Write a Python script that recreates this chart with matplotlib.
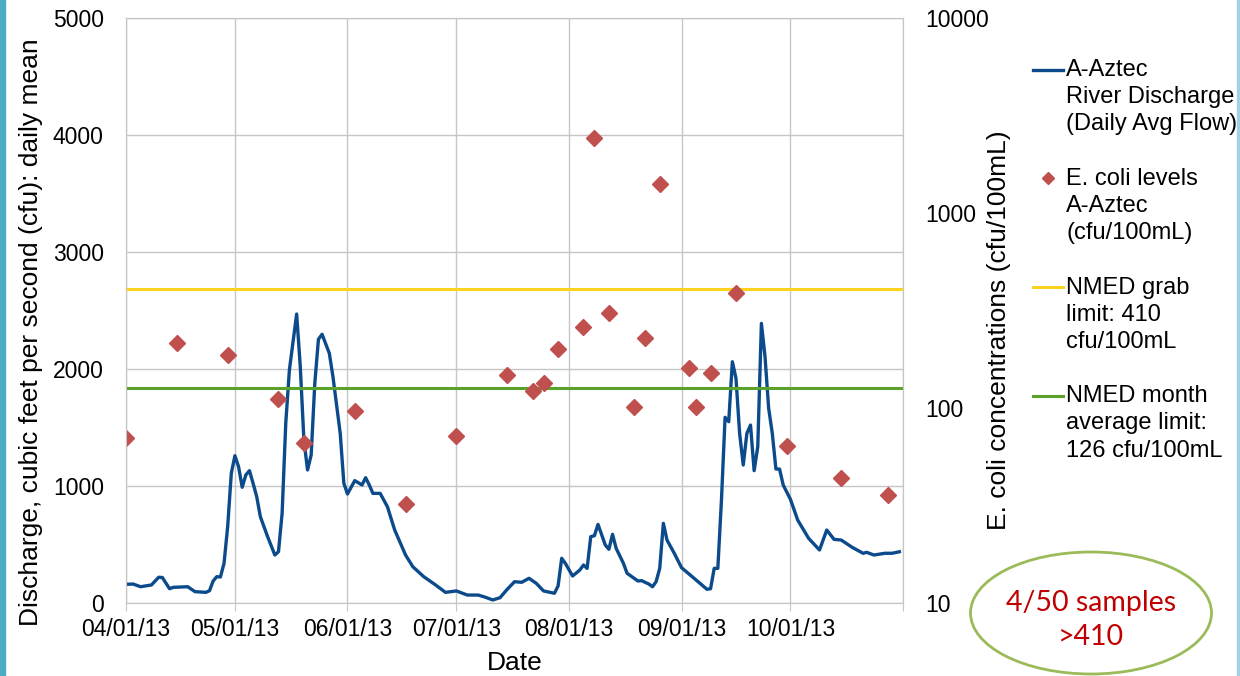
import numpy as np
import matplotlib.pyplot as plt
from matplotlib.lines import Line2D
from matplotlib.patches import Ellipse, Rectangle
from matplotlib.legend_handler import HandlerLine2D
from matplotlib.transforms import Affine2D
from matplotlib.ticker import NullLocator

plt.rcParams['font.family'] = ['Liberation Sans', 'DejaVu Sans']

# daily mean discharge (cfs); day 0 = 04/01/13
flow_day = [0, 2, 4, 7, 9, 10, 12, 13, 17, 19, 22, 23, 24, 25, 26, 27, 28, 29,
            30, 31, 32, 33, 34, 35, 36, 37, 39, 41, 42, 43, 44, 45, 47, 48, 49,
            50, 51, 52, 53, 54, 56, 57, 59, 60, 61, 63, 65, 66, 67, 68, 70, 72,
            74, 77, 79, 82, 85, 88, 91, 94, 97, 99, 101, 103, 105, 107, 109,
            111, 113, 115, 118, 119, 120, 121, 123, 125, 126, 127, 128, 129,
            130, 132, 133, 134, 135, 137, 138, 141, 142, 144, 145, 146, 147,
            148, 149, 151, 153, 154, 157, 160, 161, 162, 163, 164, 165, 166,
            167, 168, 169, 170, 171, 172, 173, 174, 175, 176, 177, 178, 179,
            180, 181, 183, 185, 188, 191, 193, 195, 197, 200, 203, 204, 206,
            209, 211, 213]
flow_cfs = [160, 162, 139, 154, 220, 218, 122, 134, 139, 97, 91, 105, 188, 225,
            222, 339, 652, 1108, 1259, 1165, 989, 1094, 1131, 1023, 909, 738,
            567, 410, 439, 767, 1536, 1991, 2470, 2020, 1393, 1137, 1265, 1878,
            2254, 2297, 2134, 1934, 1450, 1023, 932, 1046, 1009, 1071, 1009,
            937, 937, 823, 624, 410, 310, 225, 160, 91, 103, 68, 68, 49, 26, 45,
            117, 182, 177, 211, 168, 103, 83, 145, 382, 339, 231, 282, 325, 296,
            567, 575, 672, 496, 459, 587, 467, 339, 254, 188, 191, 162, 139,
            182, 296, 681, 538, 425, 302, 276, 197, 117, 122, 296, 296, 880,
            1587, 1550, 2062, 1920, 1450, 1179, 1450, 1521, 1131, 1336, 2390,
            2105, 1664, 1450, 1145, 1145, 1009, 886, 709, 553, 453, 624, 544,
            538, 476, 425, 433, 410, 425, 425, 438]

# E. coli samples (cfu/100mL)
ecoli_date = ['2013-04-01', '2013-04-15', '2013-04-29', '2013-05-13',
              '2013-05-20', '2013-06-03', '2013-06-17', '2013-07-01',
              '2013-07-15', '2013-07-22', '2013-07-25', '2013-07-29',
              '2013-08-05', '2013-08-08', '2013-08-12', '2013-08-19',
              '2013-08-22', '2013-08-26', '2013-09-03', '2013-09-05',
              '2013-09-09', '2013-09-16', '2013-09-30', '2013-10-15',
              '2013-10-28']
ecoli_cfu = [70, 215, 187, 111, 66, 97, 32, 72, 147, 122, 134, 201, 260, 2415,
             307, 101, 228, 1409, 161, 101, 152, 389, 64, 44, 36]

grab_limit = 410
month_limit = 126

month_ticks = ['2013-04-01', '2013-05-01', '2013-06-01', '2013-07-01',
               '2013-08-01', '2013-09-01', '2013-10-01', '2013-11-01']
month_labels = ['04/01/13', '05/01/13', '06/01/13', '07/01/13', '08/01/13',
                '09/01/13', '10/01/13', '']

labels = ['A-Aztec\nRiver Discharge\n(Daily Avg Flow)',
          'E. coli levels\nA-Aztec\n(cfu/100mL)',
          'NMED grab\nlimit: 410\ncfu/100mL',
          'NMED month\naverage limit:\n126 cfu/100mL']

leg_spacing = 1.3


class TopLineHandler(HandlerLine2D):
    # put the legend key next to the first line of a multi-line label
    def create_artists(self, legend, orig_handle, xdescent, ydescent, width,
                       height, fontsize, trans):
        shift = Affine2D().translate(0, fontsize * 1.17)
        return super().create_artists(legend, orig_handle, xdescent, ydescent,
                                      width, height, fontsize, shift + trans)


start = np.datetime64('2013-04-01')
flow_dates = start + np.array(flow_day, dtype='timedelta64[D]')
ecoli_dates = np.array(ecoli_date, dtype='datetime64[D]')
ticks = np.array(month_ticks, dtype='datetime64[D]')

grid_c = '#C6C6C6'
fs = 16.5

fig = plt.figure(figsize=(12.4, 6.76), dpi=100)
ax = fig.add_axes([126 / 1240, 73 / 676, 777 / 1240, 585 / 676])
ax2 = ax.twinx()

l1, = ax.plot(flow_dates, flow_cfs, color='#0B4A8B', lw=2.4, zorder=3)
ax.set_ylim(0, 5000)
ax.set_yticks(range(0, 5001, 1000))
ax.set_xlim(ticks[0], ticks[-1])
ax.set_xticks(ticks)
ax.set_xticklabels(month_labels)
ax.grid(True, color=grid_c, lw=1)
ax.set_axisbelow(True)

ax2.set_yscale('log')
ax2.set_ylim(10, 10000)
ax2.set_yticks([10, 100, 1000, 10000])
ax2.set_yticklabels(['10', '100', '1000', '10000'])
ax2.yaxis.set_minor_locator(NullLocator())

l3 = ax2.axhline(grab_limit, color='#FFD21F', lw=2.2)
l4 = ax2.axhline(month_limit, color='#5AA22A', lw=2.2)
l2, = ax2.plot(ecoli_dates, ecoli_cfu, ls='none', marker='D', ms=8.5,
               color='#C0504D', mec='#C0504D')

for a in (ax, ax2):
    for s in a.spines.values():
        s.set_color(grid_c)
ax.tick_params(axis='y', length=0, pad=16, labelsize=fs)
ax.tick_params(axis='x', length=6, color=grid_c, pad=5, labelsize=fs)
ax2.tick_params(axis='y', length=0, pad=16, labelsize=fs)

ax.set_ylabel('Discharge, cubic feet per second (cfu): daily mean', fontsize=19)
ax.yaxis.set_label_coords(-0.107, 0.463)
ax2.set_ylabel('E. coli concentrations (cfu/100mL)', fontsize=19)
ax2.yaxis.set_label_coords(1.108, 0.467)
ax.set_xlabel('Date', fontsize=19)
ax.xaxis.set_label_coords(0.5, -0.082)

leg = ax2.legend([l1, l2, l3, l4], labels, loc='upper left',
                 bbox_to_anchor=(1033 / 1240, 1 - 59 / 676),
                 bbox_transform=fig.transFigure, frameon=False, fontsize=17,
                 handlelength=1.25, handletextpad=0.15, labelspacing=1.38,
                 borderpad=0, borderaxespad=0, numpoints=1,
                 handler_map={Line2D: TopLineHandler()})
for t in leg.get_texts():
    t.set_linespacing(leg_spacing)
leg.legend_handles[1].set_markersize(6)

# callout and slide edge
fig.patches.append(Ellipse((1091 / 1240, 1 - 613 / 676), 241 / 1240, 122 / 676,
                           transform=fig.transFigure, fc='white',
                           ec='#9BBB59', lw=2))
fig.text(1091 / 1240, 1 - 620 / 676, '4/50 samples\n>410', color='#C00000',
         fontsize=20.5, family=['Lato', 'DejaVu Sans'], ha='center',
         va='center', linespacing=1.35)
fig.patches.append(Rectangle((0, 0), 5 / 1240, 1, transform=fig.transFigure,
                             color='#4BACC6'))
fig.patches.append(Rectangle((1237 / 1240, 0), 2 / 1240, 1,
                             transform=fig.transFigure, color='#9DD3E2'))

fig.savefig('out.png', dpi=100)
